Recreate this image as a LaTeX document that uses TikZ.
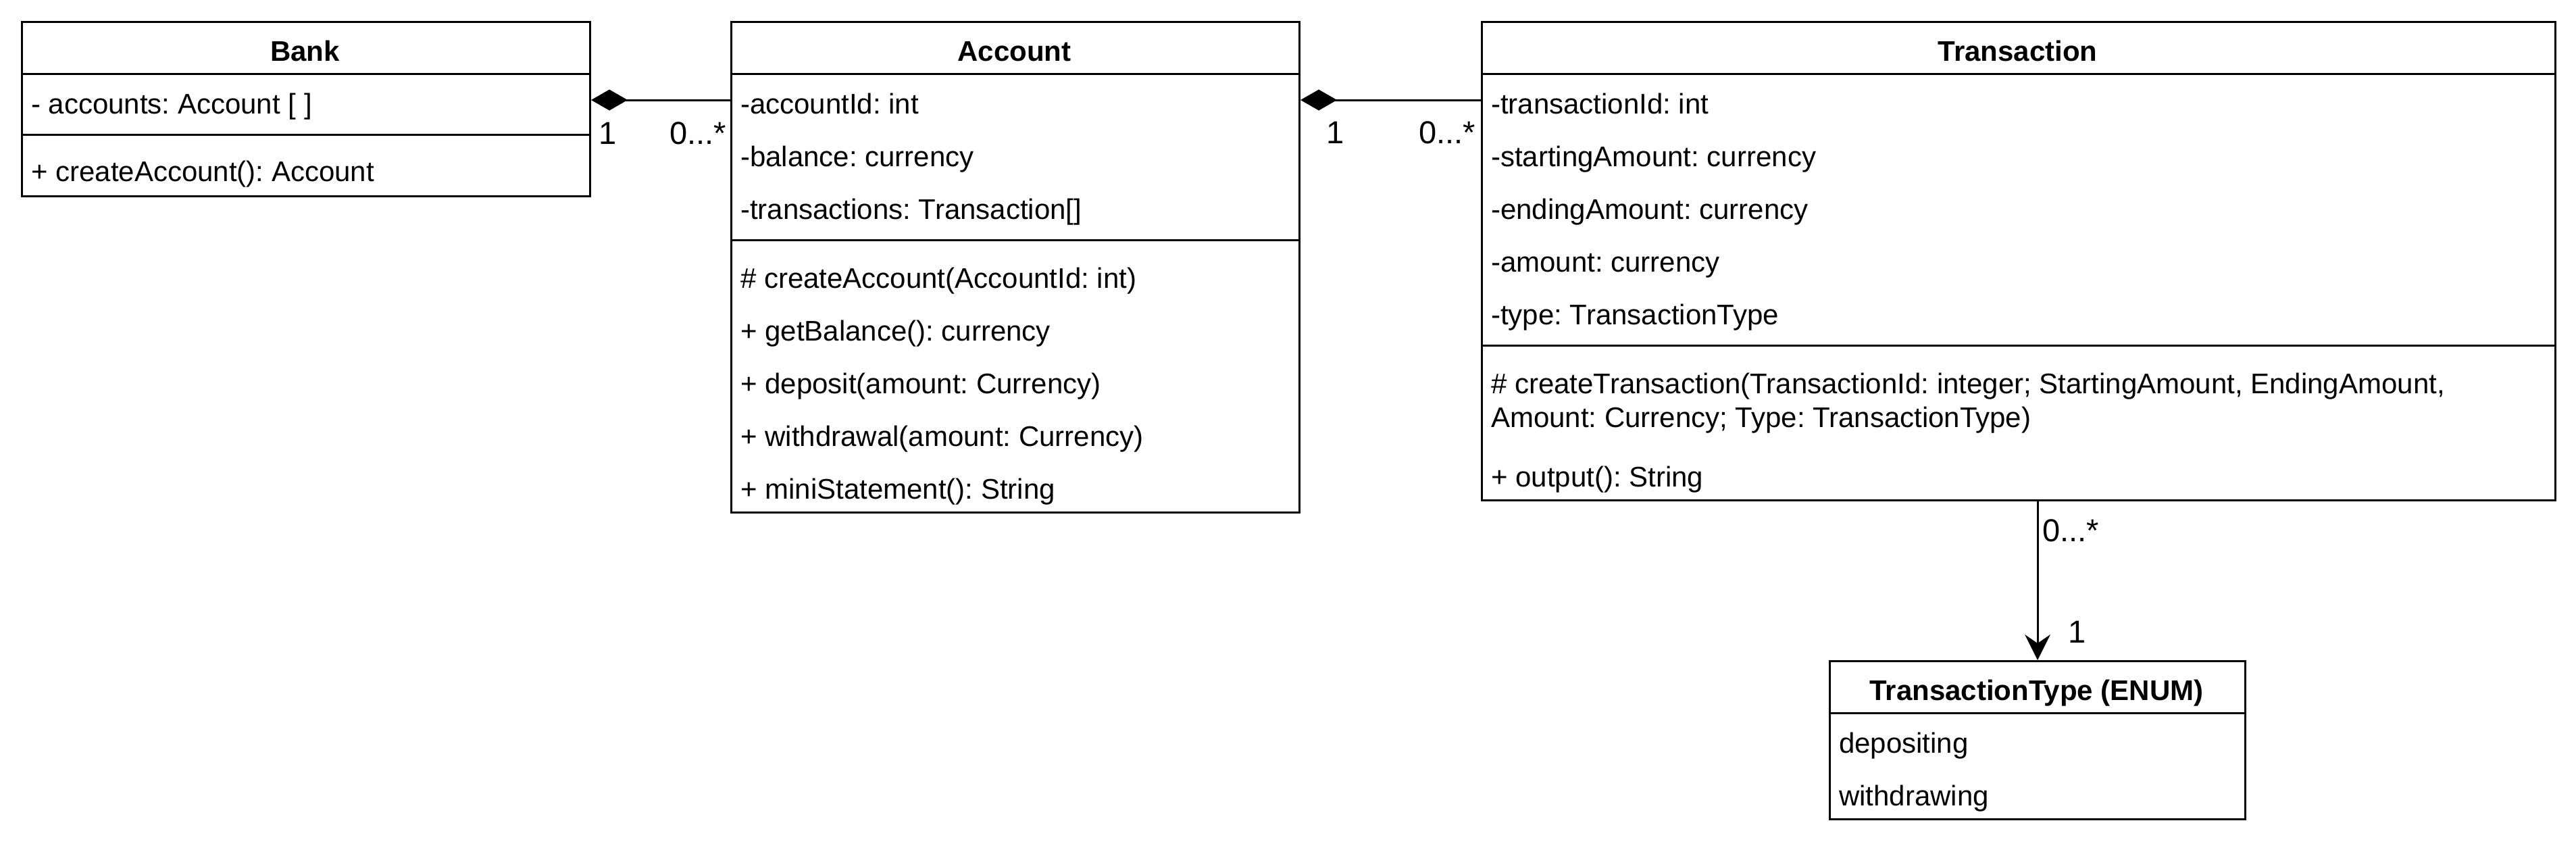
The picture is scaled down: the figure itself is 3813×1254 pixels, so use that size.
\documentclass[tikz,border=0pt]{standalone}
\usepackage{fontspec}
\setmainfont{Liberation Sans}
\usetikzlibrary{arrows.meta}
\begin{document}
\frenchspacing
\begin{tikzpicture}[x=1pt,y=-1pt,
  umlbox/.style={draw=black, line width=3pt, inner sep=0pt, anchor=north west},
  sep/.style={draw=black, line width=3pt},
  txt/.style={anchor=base west, inner sep=0pt, font=\fontsize{42}{50.4}\selectfont},
  hdr/.style={anchor=base, inner sep=0pt, font=\fontsize{42}{50.4}\selectfont\bfseries},
  mult/.style={anchor=base west, inner sep=0pt, font=\fontsize{47}{56}\selectfont},
  conn/.style={draw=black, line width=3pt},
  comp/.style={conn, -{Diamond[length=54pt,width=31pt,line width=0pt]}},
  assoc/.style={conn, -{Stealth[length=38pt,width=38pt,inset=13pt,line width=0pt]}},
]
\path[fill=white] (0,0) rectangle (3813,1254);
\useasboundingbox (0,0) rectangle (3813,1254);

% Bank
\node[umlbox, minimum width=841pt, minimum height=258pt] (bank) at (31,31) {};
\draw[sep] (31,109) -- (872,109);
\draw[sep] (31,199) -- (872,199);
\node[hdr] (bankT) at (451.5,90) {Bank};
\node[txt] (bankA1) at (46,168) {- accounts: Account [ ]};
\node[txt] (bankM1) at (46,268) {+ createAccount(): Account};

% Account
\node[umlbox, minimum width=841pt, minimum height=726pt] (acc) at (1081,31) {};
\draw[sep] (1081,109) -- (1922,109);
\draw[sep] (1081,355) -- (1922,355);
\node[hdr] (accT) at (1501.5,90) {Account};
\node[txt] (accA1) at (1096,168) {-accountId: int};
\node[txt] (accA2) at (1096,246) {-balance: currency};
\node[txt] (accA3) at (1096,324) {-transactions: Transaction[]};
\node[txt] (accM1) at (1096,426) {\# createAccount(AccountId: int)};
\node[txt] (accM2) at (1096,504) {+ getBalance(): currency};
\node[txt] (accM3) at (1096,582) {+ deposit(amount: Currency)};
\node[txt] (accM4) at (1096,660) {+ withdrawal(amount: Currency)};
\node[txt] (accM5) at (1096,738) {+ miniStatement(): String};

% Transaction
\node[umlbox, minimum width=1589pt, minimum height=708pt] (tr) at (2192,31) {};
\draw[sep] (2192,109) -- (3781,109);
\draw[sep] (2192,511) -- (3781,511);
\node[hdr] (trT) at (2986.5,90) {Transaction};
\node[txt] (trA1) at (2207,168) {-transactionId: int};
\node[txt] (trA2) at (2207,246) {-startingAmount: currency};
\node[txt] (trA3) at (2207,324) {-endingAmount: currency};
\node[txt] (trA4) at (2207,402) {-amount: currency};
\node[txt] (trA5) at (2207,480) {-type: TransactionType};
\node[txt] (trM1a) at (2207,582) {\# createTransaction(TransactionId: integer; StartingAmount, EndingAmount,};
\node[txt] (trM1b) at (2207,632) {Amount: Currency; Type: TransactionType)};
\node[txt] (trM2) at (2207,720) {+ output(): String};

% TransactionType
\node[umlbox, minimum width=615pt, minimum height=234pt] (tt) at (2707,977) {};
\draw[sep] (2707,1055) -- (3322,1055);
\node[hdr] (ttT) at (3014.5,1036) {TransactionType (ENUM)};
\node[txt] (ttA1) at (2722,1114) {depositing};
\node[txt] (ttA2) at (2722,1192) {withdrawing};

% connectors
\coordinate (yA) at (0,148);
\draw[comp] (acc.west |- yA) -- (bank.east |- yA);
\draw[comp] (tr.west |- yA) -- (acc.east |- yA);
\draw[assoc] (tt.north |- tr.south) -- (tt.north);

% multiplicities
\node[mult] (m1) at (886,213) {1};
\node[mult] (m2) at (991,213) {0...*};
\node[mult] (m3) at (1963,212) {1};
\node[mult] (m4) at (2100,212) {0...*};
\node[mult] (m5) at (3023,801) {0...*};
\node[mult] (m6) at (3061,951) {1};
\end{tikzpicture}
\end{document}
